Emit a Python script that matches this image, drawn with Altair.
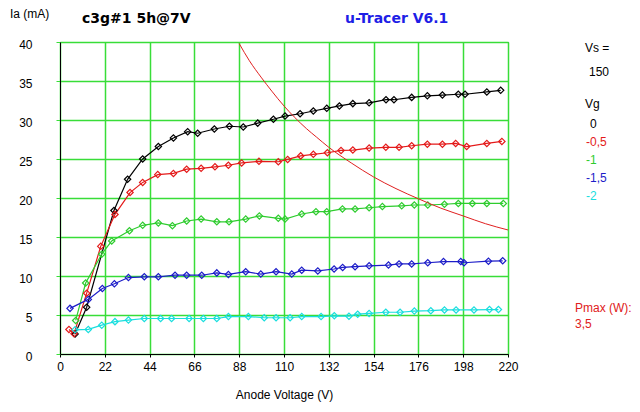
import altair as alt
import pandas as pd

# ---- data ----
series_names = ["0", "-0,5", "-1", "-1,5", "-2"]
series_colors = ["#000000", "#e41a1a", "#2ecc2e", "#1c1cc8", "#19dede"]

v_0 = [7.4, 13.1, 26.5, 33.2, 40.6, 48.3, 55.7, 62.7, 67.6, 75.8, 83.2, 90, 97.1, 104.8, 110.5,
       117.9, 124.4, 131, 137.2, 143.8, 151.8, 160.1, 164, 172.7, 180.4, 187.8, 195.6, 198.9, 209.6, 216.4]
i_0 = [2.55, 6.0, 18.4, 22.4, 25.0, 26.6, 27.7, 28.5, 28.3, 28.85, 29.2, 29.1, 29.6, 30.1, 30.5,
       30.8, 31.15, 31.5, 31.8, 32.1, 32.2, 32.6, 32.6, 32.9, 33.1, 33.2, 33.3, 33.3, 33.6, 33.8]

v_05 = [4.4, 6.9, 13.1, 20.0, 27, 34.4, 40.6, 48, 55.7, 62.2, 69.3, 76.1, 82.7, 89.2, 97.7, 107.2,
        111.8, 118.2, 124.4, 131.3, 138, 143.8, 151.8, 160, 166.5, 172.7, 180.4, 187.8, 194.3, 199.7, 209.6, 217]
i_05 = [3.15, 2.6, 7.8, 13.8, 17.9, 20.7, 22.0, 23.0, 23.15, 23.7, 23.8, 24.0, 24.2, 24.5, 24.7, 24.65,
        24.95, 25.4, 25.6, 25.8, 26.1, 26.15, 26.4, 26.5, 26.5, 26.7, 26.9, 26.9, 27.0, 26.6, 27.0, 27.25]

v_1 = [7.7, 12.6, 20.5, 25.4, 34.1, 40.6, 48.3, 55.2, 62.2, 69.3, 77, 83, 91.2, 97.9, 107.2, 110.5,
       118.7, 125.7, 131, 138.7, 144.9, 151.8, 158.3, 167.8, 174, 180.6, 188.8, 195.6, 202.5, 209.6, 217.7]
i_1 = [4.3, 9.1, 12.8, 14.5, 15.8, 16.5, 16.8, 16.45, 17.05, 17.3, 16.95, 16.95, 17.3, 17.7, 17.4, 17.3,
       17.95, 18.25, 18.25, 18.6, 18.6, 18.75, 18.9, 19.0, 19.1, 19.1, 19.2, 19.3, 19.3, 19.3, 19.3]

v_15 = [4.9, 13.9, 20.8, 26.7, 33.6, 41.4, 48.3, 56.5, 62.2, 69.6, 77, 82.7, 91.2, 98.6, 106.1, 113.8,
        118.7, 126.6, 134.6, 138.8, 144.9, 151.8, 161.3, 166.5, 172.7, 180.6, 188.3, 196.8, 198.4, 210.4, 217.4]
i_15 = [5.85, 7.0, 8.4, 9.0, 9.8, 9.9, 9.9, 10.1, 10.1, 10.1, 10.4, 10.2, 10.55, 10.25, 10.55, 10.25,
        10.75, 10.65, 10.9, 11.1, 11.2, 11.3, 11.4, 11.55, 11.55, 11.7, 11.85, 11.85, 11.7, 11.9, 11.95]

v_2 = [7.4, 13.9, 20.5, 27, 33.6, 41.4, 49.4, 54.8, 63.4, 70.4, 77, 82.7, 92.5, 100.3, 106.1, 113,
       118.7, 128.2, 134.7, 141.9, 146.2, 151.8, 160, 167, 174, 182.1, 188.8, 194.5, 203.3, 210.9, 215.3]
i_2 = [3.1, 3.15, 3.7, 4.15, 4.35, 4.55, 4.55, 4.55, 4.55, 4.55, 4.55, 4.8, 4.8, 4.65, 4.65, 4.65,
       4.8, 4.8, 4.9, 4.85, 5.1, 5.2, 5.35, 5.35, 5.5, 5.55, 5.65, 5.65, 5.65, 5.7, 5.7]

pmax_v = [88, 93, 99, 104, 110, 115, 121, 126, 132, 143, 154, 165, 176, 187, 198, 209, 220]
pmax_i = [39.8, 37.6, 35.4, 33.7, 31.8, 30.4, 28.9, 27.8, 26.5, 24.5, 22.7, 21.2, 19.9, 18.7, 17.7, 16.7, 15.9]

x_ticks = [0, 22, 44, 66, 88, 110, 132, 154, 176, 198, 220]
y_ticks = [0, 5, 10, 15, 20, 25, 30, 35, 40]

# ---- tables ----
rows = []
for name, vs, iis in zip(series_names, [v_0, v_05, v_1, v_15, v_2], [i_0, i_05, i_1, i_15, i_2]):
    for k, (v, i) in enumerate(zip(vs, iis)):
        rows.append({"Vg": name, "V": v, "I": i, "k": k})
df = pd.DataFrame(rows)
pmax = pd.DataFrame({"V": pmax_v, "I": pmax_i})

GRID = "#38dd38"
FONT = "Liberation Sans"

x_axis = alt.Axis(values=x_ticks, title="Anode Voltage (V)", grid=True, gridColor=GRID,
                  gridWidth=1.5, gridOpacity=1, domainColor="#000000", tickColor="#000000",
                  tickSize=3, labelPadding=4, labelFontSize=12, labelFont=FONT,
                  labelColor="#000000", titleFont=FONT, titleFontSize=12,
                  titleFontWeight="normal", titleColor="#000000", titlePadding=17,
                  labelFlush=False, labelOverlap=False)
y_axis = alt.Axis(values=y_ticks, title=None, grid=True, gridColor=GRID, gridWidth=1.5,
                  gridOpacity=1, domainColor="#000000", tickColor=GRID, tickSize=4,
                  labelPadding=24, labelFontSize=12, labelFont=FONT, labelColor="#000000",
                  labelFlush=False, labelOffset=2, labelOverlap=False)
x_scale = alt.Scale(domain=[0, 220], nice=False, zero=False)
y_scale = alt.Scale(domain=[0, 40], nice=False)


def xe():
    return alt.X("V:Q", scale=x_scale, axis=x_axis)


def ye():
    return alt.Y("I:Q", scale=y_scale, axis=y_axis)


col_enc = alt.Color("Vg:N", scale=alt.Scale(domain=series_names, range=series_colors), legend=None)

base = alt.Chart(df)
lines = base.mark_line(strokeWidth=1.2, clip=True).encode(x=xe(), y=ye(), color=col_enc,
                                                          order="k:Q")
points = base.mark_point(shape="diamond", filled=False, size=40, strokeWidth=1.2, clip=True,
                         opacity=1).encode(x=xe(), y=ye(), color=col_enc)
pm = alt.Chart(pmax).mark_line(color="#e02020", strokeWidth=1, interpolate="monotone",
                               clip=True).encode(x=xe(), y=ye())

# ---- annotations (positions relative to the plot area) ----
ann = [
    ("Ia (mA)", -50, -28, "#000000", 12, "normal", "middle", FONT),
    ("c3g#1 5h@7V", 22, -19, "#000000", 14, "bold", "alphabetic", "DejaVu Sans"),
    ("u-Tracer V6.1", 285, -19, "#1e1ee6", 14, "bold", "alphabetic", "DejaVu Sans"),
    ("Vs =", 525, 6, "#000000", 12, "normal", "middle", FONT),
    ("150", 529, 30, "#000000", 12, "normal", "middle", FONT),
    ("Vg", 525, 62, "#000000", 12, "normal", "middle", FONT),
    ("0", 530, 82, "#000000", 12, "normal", "middle", FONT),
    ("-0,5", 526, 100, series_colors[1], 12, "normal", "middle", FONT),
    ("-1", 526, 118, series_colors[2], 12, "normal", "middle", FONT),
    ("-1,5", 526, 136, series_colors[3], 12, "normal", "middle", FONT),
    ("-2", 526, 154, series_colors[4], 12, "normal", "middle", FONT),
    ("Pmax (W):", 515, 266, "#e02020", 12, "normal", "middle", FONT),
    ("3,5", 515, 282, "#e02020", 12, "normal", "middle", FONT),
]
texts = []
for t, px, py, c, fs, fw, bl, fn in ann:
    texts.append(alt.Chart(pd.DataFrame({"t": [t]})).mark_text(
        color=c, fontSize=fs, fontWeight=fw, align="left", baseline=bl, font=fn).encode(
        text="t:N", x=alt.value(px), y=alt.value(py)))

chart = alt.layer(lines, points, pm, *texts).properties(
    width=448, height=312,
    autosize=alt.AutoSizeParams(type="none"),
    padding={"left": 52, "top": 34, "right": 124, "bottom": 50},
    background="#ffffff",
).configure_view(stroke="#444444", strokeWidth=1)

chart.save("out.html", embed_options={"renderer": "svg", "actions": False})
